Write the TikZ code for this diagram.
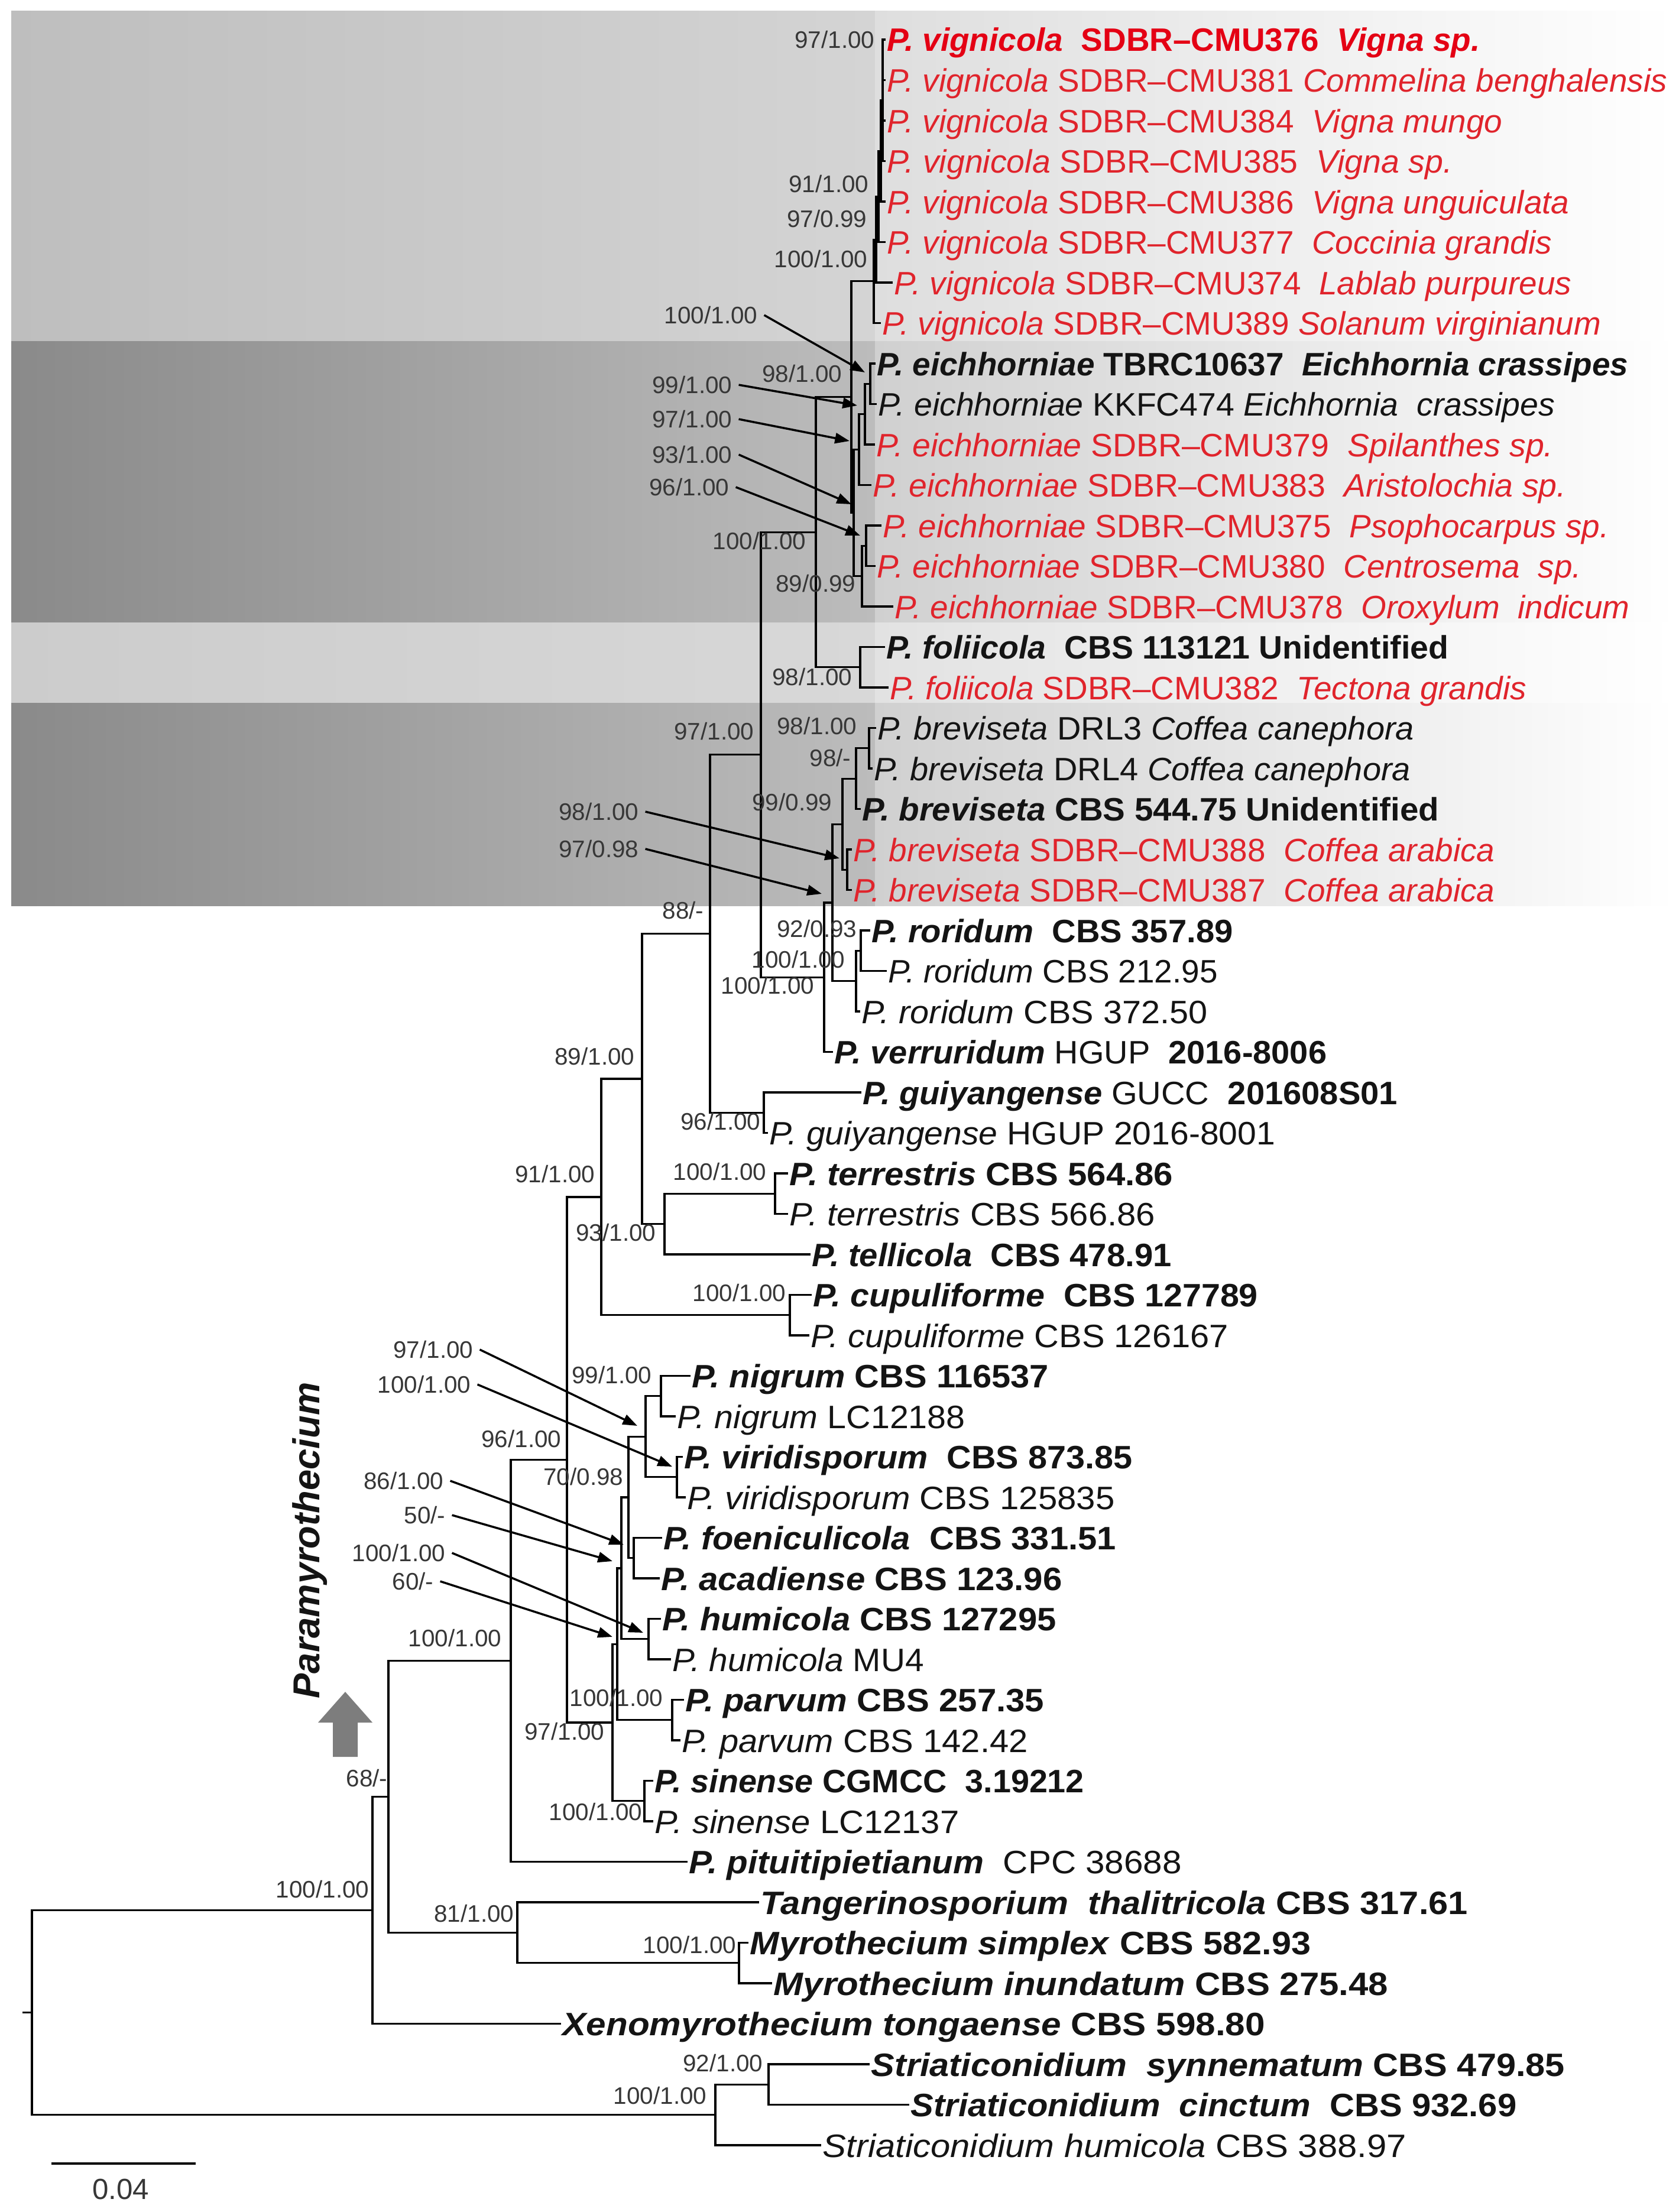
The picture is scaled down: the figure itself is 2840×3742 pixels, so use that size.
\documentclass[tikz,border=0pt]{standalone}
\usepackage{graphicx}
\usepackage{fontspec}
\setmainfont{Liberation Sans}
\usetikzlibrary{arrows.meta}
\definecolor{tred}{RGB}{224,36,44}
\definecolor{tredb}{RGB}{228,0,20}
\definecolor{tblack}{RGB}{20,20,20}
\definecolor{labgray}{RGB}{55,55,55}
\definecolor{arrowgray}{RGB}{125,125,125}
\definecolor{lightA}{RGB}{190,190,190}
\definecolor{lightB}{RGB}{212,212,212}
\definecolor{lightC}{RGB}{222,222,222}
\definecolor{darkA}{RGB}{138,138,138}
\definecolor{darkB}{RGB}{188,188,188}
\definecolor{darkC}{RGB}{208,208,208}
\definecolor{midA}{RGB}{204,204,204}
\definecolor{midB}{RGB}{216,216,216}
\definecolor{midC}{RGB}{226,226,226}
\newcommand{\tipat}[6][1]{% [xscale] name, x, y, colour, text
  \coordinate (#2) at (#3-4,#4);
  \node[tiptext,text=#5] (#2txt) at (#3,#4+20) {\scalebox{#1}[1]{#6}};}
\newcommand{\bsat}[4]{% name, right x, y, text
  \node[bslab] (#1) at (#2,#3+14.5) {#4};}
\begin{document}
\begin{tikzpicture}[x=0.01cm,y=-0.01cm,
  branch/.style={line width=0.9pt,line cap=rect,draw=black},
  tiptext/.style={anchor=base west,inner sep=0pt,font=\fontsize{15.6}{18}\selectfont},
  bslab/.style={anchor=base east,inner sep=0pt,font=\fontsize{11.5}{13}\selectfont,text=labgray},
  ptr/.style={line width=1pt,-{Triangle[length=7pt,width=5pt]}}]
\useasboundingbox (0,0) rectangle (2840,3742);
% ---- background bands
\shade[left color=lightA,right color=lightB] (19,18) rectangle (1480,577);
\shade[left color=lightC,right color=white] (1480,18) rectangle (2835,577);
\shade[left color=darkA,right color=darkB] (19,577) rectangle (1480,1053);
\shade[left color=darkC,right color=white] (1480,577) rectangle (2835,1053);
\shade[left color=midA,right color=midB] (19,1053) rectangle (1480,1189);
\shade[left color=midC,right color=white] (1480,1053) rectangle (2835,1189);
\shade[left color=darkA,right color=darkB] (19,1189) rectangle (1480,1532);
\shade[left color=darkC,right color=white] (1480,1189) rectangle (2835,1532);
% ---- tips
\tipat{t1}{1500}{67}{tredb}{\textbf{\textit{P. vignicola}\ \ SDBR–CMU376\ \ \textit{Vigna sp.}}}
\tipat{t2}{1500}{135.5}{tred}{\textit{P. vignicola} SDBR–CMU381 \textit{Commelina benghalensis}}
\tipat{t3}{1500}{204}{tred}{\textit{P. vignicola} SDBR–CMU384\ \ \textit{Vigna mungo}}
\tipat[1.01]{t4}{1500}{272.5}{tred}{\textit{P. vignicola} SDBR–CMU385\ \ \textit{Vigna sp.}}
\tipat{t5}{1500}{341}{tred}{\textit{P. vignicola} SDBR–CMU386\ \ \textit{Vigna unguiculata}}
\tipat{t6}{1500}{409.5}{tred}{\textit{P. vignicola} SDBR–CMU377\ \ \textit{Coccinia grandis}}
\tipat{t7}{1512}{478}{tred}{\textit{P. vignicola} SDBR–CMU374\ \ \textit{Lablab purpureus}}
\tipat{t8}{1492}{546.5}{tred}{\textit{P. vignicola} SDBR–CMU389 \textit{Solanum virginianum}}
\tipat{t9}{1483}{615}{tblack}{\textbf{\textit{P. eichhorniae}} \textbf{TBRC10637}\ \ \textbf{\textit{Eichhornia crassipes}}}
\tipat[1.01]{t10}{1485}{683.5}{tblack}{\textit{P. eichhorniae} KKFC474 \textit{Eichhornia\ \ crassipes}}
\tipat[1.01]{t11}{1482}{752}{tred}{\textit{P. eichhorniae} SDBR–CMU379\ \ \textit{Spilanthes sp.}}
\tipat[1.01]{t12}{1476}{820.5}{tred}{\textit{P. eichhorniae} SDBR–CMU383\ \ \textit{Aristolochia sp.}}
\tipat{t13}{1493}{889}{tred}{\textit{P. eichhorniae} SDBR–CMU375\ \ \textit{Psophocarpus sp.}}
\tipat{t14}{1483}{957.5}{tred}{\textit{P. eichhorniae} SDBR–CMU380\ \ \textit{Centrosema\ \ sp.}}
\tipat{t15}{1513}{1026}{tred}{\textit{P. eichhorniae} SDBR–CMU378\ \ \textit{Oroxylum\ \ indicum}}
\tipat[1.01]{t16}{1499}{1094.5}{tblack}{\textbf{\textit{P. foliicola}\ \ CBS 113121 Unidentified}}
\tipat{t17}{1505}{1163}{tred}{\textit{P. foliicola} SDBR–CMU382\ \ \textit{Tectona grandis}}
\tipat[1.02]{t18}{1484}{1231.5}{tblack}{\textit{P. breviseta} DRL3 \textit{Coffea canephora}}
\tipat[1.02]{t19}{1478}{1300}{tblack}{\textit{P. breviseta} DRL4 \textit{Coffea canephora}}
\tipat[1.03]{t20}{1458}{1368.5}{tblack}{\textbf{\textit{P. breviseta} CBS 544.75 Unidentified}}
\tipat{t21}{1443}{1437}{tred}{\textit{P. breviseta} SDBR–CMU388\ \ \textit{Coffea arabica}}
\tipat{t22}{1443}{1505.5}{tred}{\textit{P. breviseta} SDBR–CMU387\ \ \textit{Coffea arabica}}
\tipat[1.024]{t23}{1474}{1574}{tblack}{\textbf{\textit{P. roridum}\ \ CBS 357.89}}
\tipat{t24}{1502}{1642.5}{tblack}{\textit{P. roridum} CBS 212.95}
\tipat[1.05]{t25}{1457}{1711}{tblack}{\textit{P. roridum} CBS 372.50}
\tipat[1.02]{t26}{1411}{1779.5}{tblack}{\textbf{\textit{P. verruridum}} HGUP\ \ \textbf{2016-8006}}
\tipat[1.024]{t27}{1459}{1848}{tblack}{\textbf{\textit{P. guiyangense}} GUCC\ \ \textbf{201608S01}}
\tipat[1.04]{t28}{1301}{1916.5}{tblack}{\textit{P. guiyangense} HGUP 2016-8001}
\tipat[1.06]{t29}{1335}{1985}{tblack}{\textbf{\textit{P. terrestris} CBS 564.86}}
\tipat[1.058]{t30}{1335}{2053.5}{tblack}{\textit{P. terrestris} CBS 566.86}
\tipat[1.024]{t31}{1373}{2122}{tblack}{\textbf{\textit{P. tellicola}\ \ CBS 478.91}}
\tipat[1.047]{t32}{1375}{2190.5}{tblack}{\textbf{\textit{P. cupuliforme}\ \ CBS 127789}}
\tipat[1.054]{t33}{1371}{2259}{tblack}{\textit{P. cupuliforme} CBS 126167}
\tipat[1.054]{t34}{1170}{2327.5}{tblack}{\textbf{\textit{P. nigrum} CBS 116537}}
\tipat[1.046]{t35}{1145}{2396}{tblack}{\textit{P. nigrum} LC12188}
\tipat[1.05]{t36}{1157}{2464.5}{tblack}{\textbf{\textit{P. viridisporum}\ \ CBS 873.85}}
\tipat[1.06]{t37}{1162}{2533}{tblack}{\textit{P. viridisporum} CBS 125835}
\tipat[1.056]{t38}{1122}{2601.5}{tblack}{\textbf{\textit{P. foeniculicola}\ \ CBS 331.51}}
\tipat[1.06]{t39}{1118}{2670}{tblack}{\textbf{\textit{P. acadiense} CBS 123.96}}
\tipat[1.057]{t40}{1120}{2738.5}{tblack}{\textbf{\textit{P. humicola} CBS 127295}}
\tipat[1.035]{t41}{1137}{2807}{tblack}{\textit{P. humicola} MU4}
\tipat[1.06]{t42}{1159}{2875.5}{tblack}{\textbf{\textit{P. parvum} CBS 257.35}}
\tipat[1.056]{t43}{1153}{2944}{tblack}{\textit{P. parvum} CBS 142.42}
\tipat[1.015]{t44}{1107}{3012.5}{tblack}{\textbf{\textit{P. sinense} CGMCC\ \ 3.19212}}
\tipat[1.057]{t45}{1107}{3081}{tblack}{\textit{P. sinense} LC12137}
\tipat[1.065]{t46}{1165}{3149.5}{tblack}{\textbf{\textit{P. pituitipietianum}}\ \ CPC 38688}
\tipat[1.086]{t47}{1286}{3218}{tblack}{\textbf{\textit{Tangerinosporium\ \ thalitricola} CBS 317.61}}
\tipat[1.082]{t48}{1268}{3286.5}{tblack}{\textbf{\textit{Myrothecium simplex} CBS 582.93}}
\tipat[1.093]{t49}{1308}{3355}{tblack}{\textbf{\textit{Myrothecium inundatum} CBS 275.48}}
\tipat[1.098]{t50}{951}{3423.5}{tblack}{\textbf{\textit{Xenomyrothecium tongaense} CBS 598.80}}
\tipat[1.084]{t51}{1473}{3492}{tblack}{\textbf{\textit{Striaticonidium\ \ synnematum} CBS 479.85}}
\tipat[1.057]{t52}{1540}{3560.5}{tblack}{\textbf{\textit{Striaticonidium\ \ cinctum}\ \ CBS 932.69}}
\tipat[1.09]{t53}{1391}{3629}{tblack}{\textit{Striaticonidium humicola} CBS 388.97}
% ---- internal nodes
\coordinate (Va) at (1493,169.75);
\coordinate (Vb) at (1490,255.4);
\coordinate (Vc) at (1486,332.4);
\coordinate (Vd) at (1482,405.2);
\coordinate (Ve) at (1478,475.9);
\coordinate (E1) at (1472,649.25);
\coordinate (E2) at (1463,700.6);
\coordinate (E3) at (1453,760.6);
\coordinate (E4) at (1465,923.25);
\coordinate (E5) at (1458,974.6);
\coordinate (E6) at (1444,867.6);
\coordinate (N98) at (1440,671.8);
\coordinate (F) at (1455,1128.75);
\coordinate (N1380) at (1380,900.3);
\coordinate (B1) at (1470,1265.75);
\coordinate (B2) at (1448,1317.1);
\coordinate (B3) at (1433,1471.25);
\coordinate (B4) at (1425,1394.2);
\coordinate (R1) at (1456,1608.25);
\coordinate (R2) at (1448,1659.6);
\coordinate (R3) at (1408,1526.9);
\coordinate (R4) at (1394,1653.2);
\coordinate (N1287) at (1287,1276.7);
\coordinate (G) at (1292,1882.25);
\coordinate (N1201) at (1201,1579.5);
\coordinate (T) at (1311,2019.25);
\coordinate (N1124) at (1124,2070.6);
\coordinate (N1086) at (1086,1825);
\coordinate (C) at (1336,2224.75);
\coordinate (N1017) at (1017,2024.9);
\coordinate (Ng) at (1118,2361.75);
\coordinate (Vi) at (1145,2498.75);
\coordinate (NV) at (1092,2430.25);
\coordinate (FA) at (1072,2635.75);
\coordinate (N1063) at (1063,2533);
\coordinate (H) at (1097,2772.75);
\coordinate (N1051) at (1051,2652.9);
\coordinate (Pv) at (1137,2909.75);
\coordinate (N1044) at (1044,2781.3);
\coordinate (S) at (1090,3046.75);
\coordinate (N1036) at (1036,2914);
\coordinate (N959) at (959,2469.5);
\coordinate (N864) at (864,2809.5);
\coordinate (My) at (1250,3320.75);
\coordinate (N875) at (875,3269.4);
\coordinate (N657) at (657,3039.5);
\coordinate (N630) at (630,3231.5);
\coordinate (St) at (1300,3526.25);
\coordinate (N1210) at (1210,3577.6);
\coordinate (Root) at (54,3404.6);
\coordinate (RootTick) at (40,3404.6);
% ---- branches
\draw[branch]
  (Va) |- (t1) (Va) |- (t2) (Va) |- (t3) (Va) |- (t4)
  (Vb) |- (Va) (Vb) |- (t5)
  (Vc) |- (Vb) (Vc) |- (t6)
  (Vd) |- (Vc) (Vd) |- (t7)
  (Ve) |- (Vd) (Ve) |- (t8)
  (E1) |- (t9) (E1) |- (t10)
  (E2) |- (E1) (E2) |- (t11)
  (E3) |- (E2) (E3) |- (t12)
  (E4) |- (t13) (E4) |- (t14)
  (E5) |- (E4) (E5) |- (t15)
  (E6) |- (E3) (E6) |- (E5)
  (N98) |- (Ve) (N98) |- (E6)
  (F) |- (t16) (F) |- (t17)
  (N1380) |- (N98) (N1380) |- (F)
  (B1) |- (t18) (B1) |- (t19)
  (B2) |- (B1) (B2) |- (t20)
  (B3) |- (t21) (B3) |- (t22)
  (B4) |- (B2) (B4) |- (B3)
  (R1) |- (t23) (R1) |- (t24)
  (R2) |- (R1) (R2) |- (t25)
  (R3) |- (B4) (R3) |- (R2)
  (R4) |- (R3) (R4) |- (t26)
  (N1287) |- (N1380) (N1287) |- (R4)
  (G) |- (t27) (G) |- (t28)
  (N1201) |- (N1287) (N1201) |- (G)
  (T) |- (t29) (T) |- (t30)
  (N1124) |- (T) (N1124) |- (t31)
  (N1086) |- (N1201) (N1086) |- (N1124)
  (C) |- (t32) (C) |- (t33)
  (N1017) |- (N1086) (N1017) |- (C)
  (Ng) |- (t34) (Ng) |- (t35)
  (Vi) |- (t36) (Vi) |- (t37)
  (NV) |- (Ng) (NV) |- (Vi)
  (FA) |- (t38) (FA) |- (t39)
  (N1063) |- (NV) (N1063) |- (FA)
  (H) |- (t40) (H) |- (t41)
  (N1051) |- (N1063) (N1051) |- (H)
  (Pv) |- (t42) (Pv) |- (t43)
  (N1044) |- (N1051) (N1044) |- (Pv)
  (S) |- (t44) (S) |- (t45)
  (N1036) |- (N1044) (N1036) |- (S)
  (N959) |- (N1017) (N959) |- (N1036)
  (N864) |- (N959) (N864) |- (t46)
  (My) |- (t48) (My) |- (t49)
  (N875) |- (t47) (N875) |- (My)
  (N657) |- (N864) (N657) |- (N875)
  (N630) |- (N657) (N630) |- (t50)
  (St) |- (t51) (St) |- (t52)
  (N1210) |- (St) (N1210) |- (t53)
  (Root) |- (N630) (Root) |- (N1210)
  (RootTick) -- (Root);
% ---- support values
\bsat{s1}{1480}{67}{97/1.00}
\bsat{s2}{1470}{311}{91/1.00}
\bsat{s3}{1467}{370}{97/0.99}
\bsat{s4}{1468}{438}{100/1.00}
\bsat{s5}{1425}{632}{98/1.00}
\bsat{s6}{1364}{915}{100/1.00}
\bsat{s7}{1448}{987}{89/0.99}
\bsat{s8}{1442}{1145}{98/1.00}
\bsat{s9}{1276}{1237}{97/1.00}
\bsat{s10}{1450}{1228}{98/1.00}
\bsat{s11}{1440}{1282}{98/-}
\bsat{s12}{1408}{1357}{99/0.99}
\bsat{s13}{1191}{1540}{88/-}
\bsat{s14}{1450}{1571}{92/0.93}
\bsat{s15}{1430}{1623}{100/1.00}
\bsat{s16}{1378}{1667}{100/1.00}
\bsat{s17}{1074}{1787}{89/1.00}
\bsat{s18}{1287}{1897}{96/1.00}
\bsat{s19}{1297}{1982}{100/1.00}
\bsat{s20}{1007}{1986}{91/1.00}
\bsat{s21}{1110}{2085}{93/1.00}
\bsat{s22}{1330}{2187}{100/1.00}
\bsat{s23}{1103}{2326}{99/1.00}
\bsat{s24}{950}{2434}{96/1.00}
\bsat{s25}{1055}{2498}{70/0.98}
\bsat{s26}{849}{2771}{100/1.00}
\bsat{s27}{1122}{2872}{100/1.00}
\bsat{s28}{1023}{2929}{97/1.00}
\bsat{s29}{656}{3008}{68/-}
\bsat{s30}{1087}{3065}{100/1.00}
\bsat{s31}{625}{3196}{100/1.00}
\bsat{s32}{870}{3237}{81/1.00}
\bsat{s33}{1246}{3290}{100/1.00}
\bsat{s34}{1291}{3490}{92/1.00}
\bsat{s35}{1196}{3545}{100/1.00}
% ---- support values with pointers
\bsat{a1}{1282}{533}{100/1.00}
\bsat{a2}{1239}{651}{99/1.00}
\bsat{a3}{1239}{709}{97/1.00}
\bsat{a4}{1239}{769}{93/1.00}
\bsat{a5}{1234}{824}{96/1.00}
\bsat{a6}{1081}{1373}{98/1.00}
\bsat{a7}{1081}{1436}{97/0.98}
\bsat{a8}{801}{2283}{97/1.00}
\bsat{a9}{797}{2342}{100/1.00}
\bsat{a10}{751}{2505}{86/1.00}
\bsat{a11}{754}{2563}{50/-}
\bsat{a12}{754}{2627}{100/1.00}
\bsat{a13}{734}{2675}{60/-}
\coordinate (a1t) at (1463,630);
\coordinate (a2t) at (1450,686);
\coordinate (a3t) at (1437,746);
\coordinate (a4t) at (1440,853);
\coordinate (a5t) at (1455,906);
\coordinate (a6t) at (1420,1452);
\coordinate (a7t) at (1390,1512);
\coordinate (a8t) at (1078,2412);
\coordinate (a9t) at (1137,2481);
\coordinate (a10t) at (1055,2613);
\coordinate (a11t) at (1036,2641);
\coordinate (a12t) at (1088,2762);
\coordinate (a13t) at (1036,2769);
\foreach \i in {1,...,13}{\draw[ptr] ([xshift=3pt]a\i.east) -- (a\i t);}
% ---- clade label and arrow
\node[rotate=90,inner sep=0pt,text=tblack,font=\fontsize{18}{20}\selectfont\bfseries\itshape] (para) at (524,2606) {Paramyrothecium};
\fill[arrowgray] (563,2972) -- (563,2914) -- (538,2914) -- (584,2862) -- (630,2914) -- (605,2914) -- (605,2972) -- cycle;
% ---- scale bar
\coordinate (sbA) at (87,3660);
\coordinate (sbB) at (331,3660);
\draw[line width=1pt] (sbA) -- (sbB);
\node[inner sep=0pt,text=labgray,font=\fontsize{14}{16}\selectfont] (sbl) at (204,3704) {0.04};
\end{tikzpicture}
\end{document}
